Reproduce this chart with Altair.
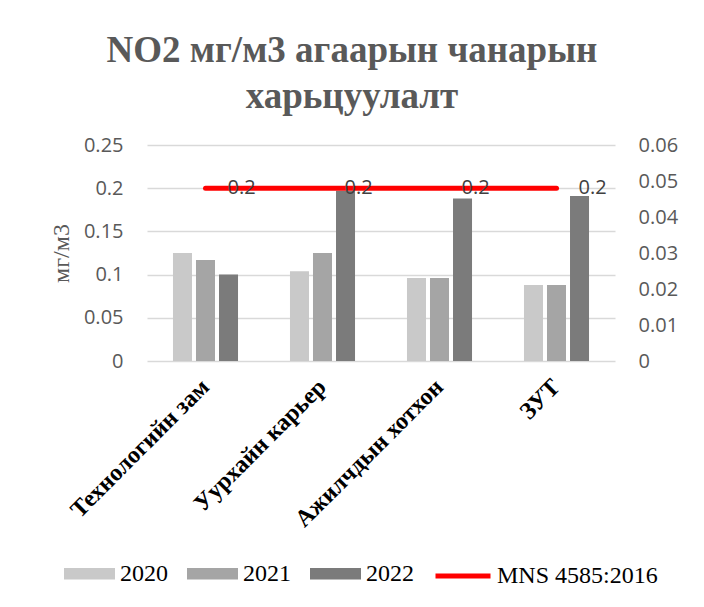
import altair as alt
import pandas as pd

categories = ["Технологийн зам", "Уурхайн карьер", "Ажилчдын хотхон", "ЗУТ"]
years = ["2020", "2021", "2022"]
v2020 = [0.125, 0.104, 0.096, 0.088]
v2021 = [0.117, 0.125, 0.096, 0.088]
v2022 = [0.100, 0.197, 0.188, 0.191]
mns = [0.2, 0.2, 0.2, 0.2]
mns_name = "MNS 4585:2016"
left_ticks = [0, 0.05, 0.1, 0.15, 0.2, 0.25]
right_ticks = [0, 0.01, 0.02, 0.03, 0.04, 0.05, 0.06]
bar_colors = ["#c9c9c9", "#a5a5a5", "#7b7b7b"]
line_color = "#ff0000"
title_lines = ["NO2 мг/м3 агаарын чанарын", "харьцуулалт"]
y_title = "мг/м3"

rows = []
for yr, vals in zip(years, [v2020, v2021, v2022]):
    for c, v in zip(categories, vals):
        rows.append({"cat": c, "year": yr, "value": v})
bars_df = pd.DataFrame(rows)
line_df = pd.DataFrame({"cat": categories, "mns": mns, "series": [mns_name] * len(categories)})
right_df = pd.DataFrame({"r": right_ticks})

xscale = alt.Scale(domain=categories, paddingInner=0.444, paddingOuter=0.222)
yscale = alt.Scale(domain=[0, 0.25])

x_axis = alt.Axis(title=None, labelAngle=315, labelAlign="right", labelBaseline="middle",
                  labelFont="Liberation Serif", labelFontWeight="bold", labelFontSize=24,
                  labelColor="#000000", labelPadding=22, ticks=False, domain=False,
                  grid=False, labelLimit=400)

y_axis = alt.Axis(title=y_title, values=left_ticks, format="~g", labelFont="Open Sans",
                  labelFontSize=20, labelColor="#595959", labelPadding=24, ticks=False,
                  domain=False, grid=True, gridColor="#d9d9d9", gridWidth=1.5,
                  titleFont="Liberation Serif", titleFontSize=24, titleFontWeight="normal",
                  titleColor="#595959", titleX=-86, titleY=108, titleAngle=270,
                  titleBaseline="middle", titleAlign="center")

bars = alt.Chart(bars_df).mark_bar().encode(
    x=alt.X("cat:N", scale=xscale, axis=x_axis),
    xOffset=alt.XOffset("year:N", scale=alt.Scale(domain=years, paddingInner=0.174, paddingOuter=0)),
    y=alt.Y("value:Q", scale=yscale, axis=y_axis),
    fill=alt.Fill("year:N", scale=alt.Scale(domain=years, range=bar_colors),
                  legend=alt.Legend(title=None, orient="none", direction="horizontal",
                                    legendX=-83, legendY=403,
                                    symbolType="M-1,-0.23H1V0.23H-1Z", symbolSize=2601,
                                    symbolStrokeWidth=0, labelFont="Liberation Serif",
                                    labelFontSize=24, labelColor="#000000", labelOffset=5,
                                    columnPadding=19, labelLimit=300)),
)

line = alt.Chart(line_df).mark_line(strokeWidth=5, strokeCap="round").encode(
    x=alt.X("cat:N", scale=xscale, axis=x_axis),
    y=alt.Y("mns:Q", scale=yscale, axis=y_axis),
    stroke=alt.Stroke("series:N", scale=alt.Scale(domain=[mns_name], range=[line_color]),
                      legend=alt.Legend(title=None, orient="none", direction="horizontal",
                                        legendX=286, legendY=401, symbolType="stroke",
                                        symbolSize=3025, symbolStrokeWidth=5,
                                        labelFont="Liberation Serif", labelFontSize=24,
                                        labelColor="#000000", labelOffset=4, labelLimit=300)),
)

labels = alt.Chart(line_df).mark_text(align="left", baseline="middle", dx=22, font="Open Sans",
                                      fontSize=20, color="#404040").encode(
    x=alt.X("cat:N", scale=xscale, axis=x_axis),
    y=alt.Y("mns:Q", scale=yscale, axis=y_axis),
    text=alt.Text("mns:Q", format="~g"),
)

right = alt.Chart(right_df).mark_point(opacity=0).encode(
    y=alt.Y("r:Q", scale=alt.Scale(domain=[0, 0.06]),
            axis=alt.Axis(orient="right", values=right_ticks, format="~g", title=None,
                          grid=False, ticks=False, domain=False, labelFont="Open Sans",
                          labelFontSize=20, labelColor="#595959", labelPadding=23)),
)

inner = alt.layer(bars, line, labels)
chart = alt.layer(inner, right).resolve_scale(y="independent").properties(
    width=468, height=216,
    padding={"left": 139, "top": 137, "right": 81, "bottom": 238},
    autosize=alt.AutoSizeParams(type="none"),
    title=alt.TitleParams(title_lines, font="Liberation Serif", fontSize=37, fontWeight="bold",
                          color="#595959", lineHeight=46, anchor="middle", frame="group",
                          dx=-29, offset=19),
).configure_view(strokeOpacity=0)

chart.save("out.html", embed_options={"renderer": "svg", "actions": False})
